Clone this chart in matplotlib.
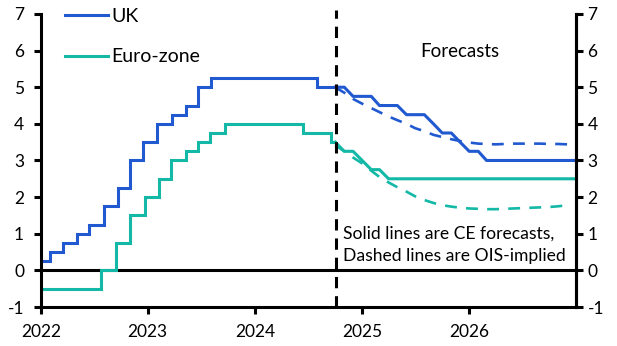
import matplotlib
matplotlib.use('Agg')
import matplotlib.pyplot as plt
import matplotlib.dates as mdates
import pandas as pd

plt.rcParams['font.family'] = ['Lato', 'DejaVu Sans']
plt.rcParams['axes.unicode_minus'] = False

# ---- data ----
uk_hist_dates = ['2022-01-01', '2022-02-03', '2022-03-17', '2022-05-05', '2022-06-16',
                 '2022-08-04', '2022-09-22', '2022-11-03', '2022-12-15', '2023-02-02',
                 '2023-03-23', '2023-05-11', '2023-06-22', '2023-08-03', '2024-08-01',
                 '2024-10-01']
uk_hist_vals = [0.25, 0.5, 0.75, 1.0, 1.25, 1.75, 2.25, 3.0, 3.5, 4.0,
                4.25, 4.5, 5.0, 5.25, 5.0, 5.0]

ez_hist_dates = ['2022-01-01', '2022-07-27', '2022-09-14', '2022-11-02', '2022-12-21',
                 '2023-02-08', '2023-03-22', '2023-05-10', '2023-06-21', '2023-08-02',
                 '2023-09-20', '2024-06-12', '2024-09-18', '2024-10-01']
ez_hist_vals = [-0.5, 0.0, 0.75, 1.5, 2.0, 2.5, 3.0, 3.25, 3.5, 3.75,
                4.0, 3.75, 3.5, 3.5]

# monthly forecasts, Oct 2024 - Jan 2027
fc_start = '2024-10-01'
uk_fc = [5.0, 5.0, 4.75, 4.75, 4.75, 4.5, 4.5, 4.5, 4.25, 4.25, 4.25, 4.0, 3.75, 3.75,
         3.5, 3.25, 3.25, 3.0, 3.0, 3.0, 3.0, 3.0, 3.0, 3.0, 3.0, 3.0, 3.0, 3.0]
ez_fc = [3.5, 3.25, 3.25, 3.0, 2.75, 2.75, 2.5, 2.5, 2.5, 2.5, 2.5, 2.5, 2.5, 2.5,
         2.5, 2.5, 2.5, 2.5, 2.5, 2.5, 2.5, 2.5, 2.5, 2.5, 2.5, 2.5, 2.5, 2.5]

# OIS-implied paths, monthly from Oct 2024
uk_ois = [5.00, 4.85, 4.68, 4.55, 4.43, 4.32, 4.20, 4.10, 4.00, 3.88, 3.80, 3.70, 3.64, 3.58,
          3.53, 3.49, 3.46, 3.45, 3.44, 3.45, 3.46, 3.46, 3.46, 3.46, 3.45, 3.45, 3.44, 3.43]
ez_ois = [3.42, 3.25, 3.08, 2.92, 2.72, 2.55, 2.40, 2.27, 2.15, 2.02, 1.92, 1.84, 1.78, 1.74,
          1.71, 1.69, 1.68, 1.67, 1.67, 1.68, 1.69, 1.70, 1.71, 1.72, 1.73, 1.75, 1.78]

year_ticks = ['2022', '2023', '2024', '2025', '2026']
y_ticks = [-1, 0, 1, 2, 3, 4, 5, 6, 7]

UK_C = '#2159d0'
EZ_C = '#13b8a6'

# ---- figure ----
fig = plt.figure(figsize=(6.17, 3.46), dpi=100)
ax = fig.add_axes([0.066, 0.1127, 0.868, 0.847])

uk_hd = pd.to_datetime(uk_hist_dates)
ez_hd = pd.to_datetime(ez_hist_dates)
fc_d = pd.date_range(fc_start, periods=len(uk_fc), freq='MS')
ois_uk_d = pd.date_range(fc_start, periods=len(uk_ois), freq='MS')
ois_ez_d = pd.date_range(fc_start, periods=len(ez_ois), freq='MS')

lw = 2.2
ax.plot(uk_hd, uk_hist_vals, drawstyle='steps-post', color=UK_C, lw=lw, label='UK',
        solid_joinstyle='miter')
ax.plot(ez_hd, ez_hist_vals, drawstyle='steps-post', color=EZ_C, lw=lw, label='Euro-zone',
        solid_joinstyle='miter')
ax.plot(fc_d, uk_fc, color=UK_C, lw=lw)
ax.plot(fc_d, ez_fc, color=EZ_C, lw=lw)
ax.plot(ois_uk_d, uk_ois, color=UK_C, lw=1.9, linestyle=(0, (4.5, 3.5)))
ax.plot(ois_ez_d, ez_ois, color=EZ_C, lw=1.9, linestyle=(0, (4.5, 3.5)))

ax.axhline(0, color='black', lw=2.2, zorder=1)
ax.axvline(pd.Timestamp('2024-10-03'), ymin=0, ymax=1.013, clip_on=False,
           color='black', lw=2.2, linestyle=(0, (3.7, 2.6)))

ax.set_xlim(pd.Timestamp('2022-01-01'), pd.Timestamp('2027-01-01'))
ax.set_ylim(-1, 7)
ax.set_xticks(pd.to_datetime([y + '-01-01' for y in year_ticks]))
ax.set_xticklabels(year_ticks)
ax.set_yticks(y_ticks)
ax.set_yticklabels([str(v) for v in y_ticks])

TS = 12.5
for s in ['left', 'right', 'bottom']:
    ax.spines[s].set_linewidth(2.2)
ax.spines['top'].set_visible(False)
ax.tick_params(axis='both', which='both', direction='out', length=5, width=2.2,
               labelsize=TS, colors='black')
ax.tick_params(axis='y', pad=7)
ax.tick_params(axis='x', pad=7)

ax2 = ax.twinx()
ax2.set_ylim(-1, 7)
ax2.set_yticks(y_ticks)
ax2.set_yticklabels([str(v) for v in y_ticks])
for s in ['left', 'top', 'bottom']:
    ax2.spines[s].set_visible(False)
ax2.spines['right'].set_linewidth(2.2)
ax2.tick_params(axis='y', direction='out', length=5, width=2.2, labelsize=TS, pad=3)

ax.text(pd.Timestamp('2025-12-01'), 5.98, 'Forecasts', fontsize=13.5, ha='center', va='center')
ax.text(pd.Timestamp('2024-10-26'), 0.99, 'Solid lines are CE forecasts,', fontsize=12.6,
        ha='left', va='center')
ax.text(pd.Timestamp('2024-10-26'), 0.40, 'Dashed lines are OIS-implied', fontsize=12.6,
        ha='left', va='center')

ax.legend(loc='upper left', bbox_to_anchor=(0.045, 1.02), frameon=False, fontsize=14,
          handlelength=2.2, handletextpad=0.2, labelspacing=1.2, borderaxespad=0,
          borderpad=0)

fig.savefig('out.png', dpi=100)
